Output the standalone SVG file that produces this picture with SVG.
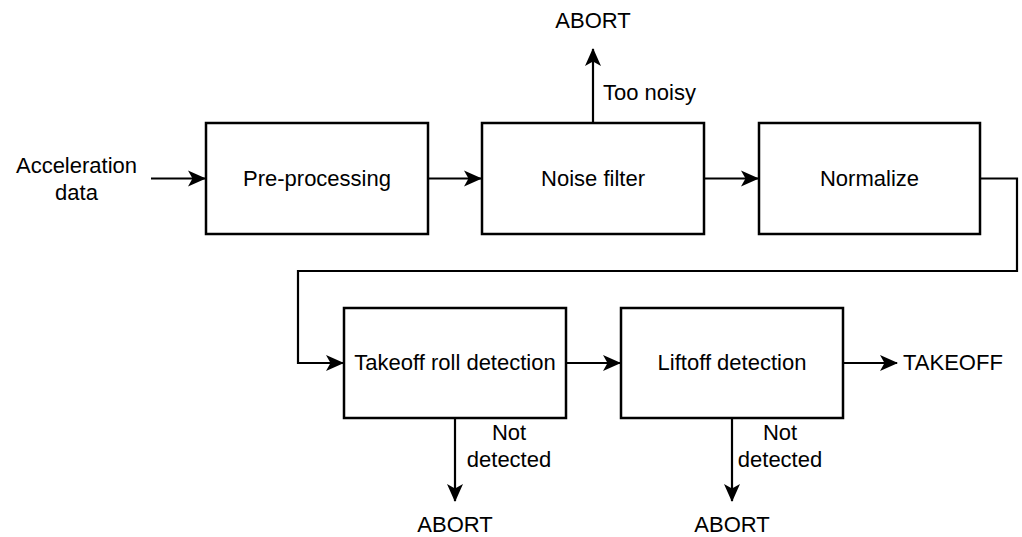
<svg xmlns="http://www.w3.org/2000/svg" width="1022" height="537" viewBox="0 0 1022 537">
<defs>
<marker id="arr" markerUnits="userSpaceOnUse" markerWidth="20" markerHeight="18" refX="17" refY="8" orient="auto" viewBox="0 0 20 16">
<path d="M0,0 L18,8 L0,16 L4.5,8 Z" fill="#000"/>
</marker>
<style>
.box{fill:#fff;stroke:#000;stroke-width:2.5}
.c{fill:none;stroke:#000;stroke-width:2.2;marker-end:url(#arr)}
text{font-family:"Liberation Sans",Arial,sans-serif;font-size:22px;fill:#000}
.m{text-anchor:middle}
</style>
</defs>
<rect width="1022" height="537" fill="#fff"/>
<g id="connectors">
<path class="c" d="M151,178.5 H205"/>
<path class="c" d="M428,178.5 H481"/>
<path class="c" d="M704,178.5 H758"/>
<path class="c" d="M593,123 V49"/>
<path class="c" d="M980,178.5 H1017 V271 H298 V363 H343"/>
<path class="c" d="M566,363 H620"/>
<path class="c" d="M843,363 H897"/>
<path class="c" d="M455,418 V501"/>
<path class="c" d="M732,418 V501"/>
</g>
<g id="input"><text class="m" x="76.5" y="173">Acceleration</text><text class="m" x="76.5" y="200">data</text></g>
<g id="preprocessing"><rect class="box" x="206" y="123" width="222" height="111"/><text class="m" x="317" y="186">Pre-processing</text></g>
<g id="noisefilter"><rect class="box" x="482" y="123" width="222" height="111"/><text class="m" x="593" y="186">Noise filter</text></g>
<g id="normalize"><rect class="box" x="759" y="123" width="221" height="111"/><text class="m" x="869.5" y="186">Normalize</text></g>
<g id="takeoffroll"><rect class="box" x="344" y="308" width="222" height="110"/><text class="m" x="455" y="370">Takeoff roll detection</text></g>
<g id="liftoff"><rect class="box" x="621" y="308" width="222" height="110"/><text class="m" x="732" y="370">Liftoff detection</text></g>
<g id="abort-top"><text class="m" x="593" y="28">ABORT</text></g>
<g id="label-noisy"><text x="603" y="100">Too noisy</text></g>
<g id="takeoff"><text x="903" y="370">TAKEOFF</text></g>
<g id="label-nd1"><text class="m" x="509" y="440">Not</text><text class="m" x="509" y="467">detected</text></g>
<g id="label-nd2"><text class="m" x="780" y="440">Not</text><text class="m" x="780" y="467">detected</text></g>
<g id="abort1"><text class="m" x="455" y="532">ABORT</text></g>
<g id="abort2"><text class="m" x="732" y="532">ABORT</text></g>
</svg>
